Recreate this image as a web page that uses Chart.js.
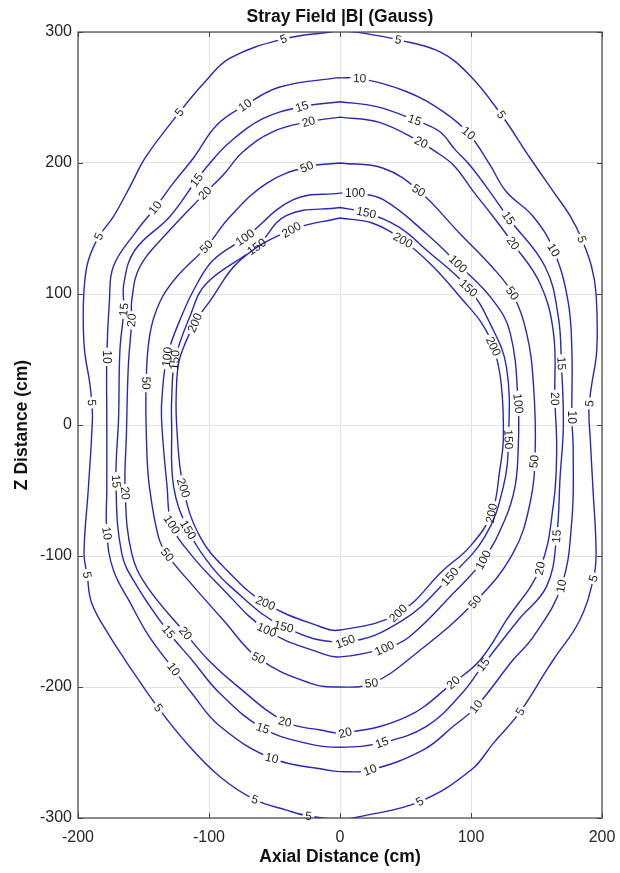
<!DOCTYPE html>
<html><head><meta charset="utf-8">
<script src="https://cdn.jsdelivr.net/npm/chart.js@4.4.1/dist/chart.umd.min.js"></script>
<style>html,body{margin:0;padding:0;background:#fff}canvas{display:block}</style>
</head><body>
<canvas id="c" width="620" height="873"></canvas>
<script>
// ---- data (Axial distance x, Z distance z in cm) ----
const xTicks = [-200, -100, 0, 100, 200];
const zTicks = [-300, -200, -100, 0, 100, 200, 300];
const levels = [5, 10, 15, 20, 50, 100, 150, 200];

const c5 = [[0,301],[15,299.5],[44.5,294],[76,285],[99,267],[123,237],[145,204],[163,178],[176,159],[184.5,142],[192,121],[195.5,100],[196,57],[192,30],[190,12],[191,-10],[193,-47],[195.5,-98],[193.5,-117],[183,-149],[163,-179],[157.8,-187],[137.5,-219],[117,-243],[100.5,-263],[61,-287.5],[15,-299],[0,-301],[-24,-298.5],[-40.7,-294],[-65,-286],[-91.6,-268.5],[-117,-243],[-138.7,-216],[-159,-187],[-164,-179.4],[-175.6,-161.6],[-189.5,-136],[-193,-114.5],[-195.4,-98],[-192,-47],[-189,4],[-189.5,17],[-191,32],[-195,57],[-196,83],[-195,108],[-192,126],[-184,144],[-173,159],[-159,184.5],[-149,203.6],[-122.6,238.7],[-103,262],[-84,280],[-43,294.7],[-7.6,300],[0,301]];
const c10 = [[0,265],[15,264.6],[51,254.4],[79,239],[98,222.7],[114.5,198.5],[127,178],[147.6,159],[163,133.6],[174,95],[177,57],[177,6],[178,-19],[177,-72.5],[169,-123],[147.6,-161.6],[132,-179.4],[104,-215],[86.5,-230],[63.6,-248],[23,-263.4],[0,-264.6],[-10,-263.4],[-52,-254.4],[-91.6,-230],[-113,-205],[-127,-186.5],[-146,-161],[-160,-136],[-173,-110.7],[-178,-82.7],[-178,-47],[-178,0],[-178,52],[-176,95],[-173,121],[-156.5,146.5],[-141,166],[-127,185],[-112,203.6],[-94,229],[-72.5,244],[-46,258],[-2.5,265],[0,265]];
const c15 = [[0,246.8],[28,243],[57,232.8],[76,224],[88,210],[99,198.5],[114.5,178],[128.5,158],[156.5,121],[166.6,83],[169,47],[170.5,0],[168,-40],[165.4,-85],[157.8,-123],[136,-149],[109.4,-183],[93,-205],[66,-230],[32,-242.5],[0,-246],[-25.4,-243],[-59,-231.5],[-91.6,-205],[-113,-179.4],[-131,-158],[-155,-123],[-166.6,-98],[-171,-43],[-169,6],[-168,57],[-165,88],[-165,108],[-156.5,133.6],[-130,159],[-109.5,187],[-100.5,198.5],[-84,216],[-58.5,234],[-29,243],[0,246.8]];
const c20 = [[0,235],[30,231],[62,215.8],[71,210],[86.5,198.5],[102,178],[117,159],[132,138.7],[152.7,108],[163,70],[164,20],[165.4,-19],[163,-60],[152.7,-109.4],[127,-149],[107,-179.4],[86.5,-196.7],[51,-222.7],[4,-235],[-15,-232.8],[-42,-226.5],[-80,-198],[-100.5,-179.4],[-118,-159],[-147.5,-123],[-159,-98],[-164,-52],[-163,-6],[-161.6,44.5],[-159,80],[-159,95],[-152.7,121],[-132,146.5],[-103,177],[-89,191],[-74,208.6],[-51,224],[-24,231.5],[0,235]];
const c50 = [[0,200],[33,196],[60,179],[91.6,146],[115.8,121],[131.5,100.5],[142.5,70],[147.6,32],[149,-20],[145,-60],[132,-98],[103,-135],[58.5,-174],[25,-197],[0,-200],[-23,-197],[-62.3,-178],[-89,-149],[-112,-123],[-132,-99],[-138.7,-85],[-145.5,-47],[-147.5,-19],[-148,32],[-145,70],[-137,95],[-124.7,113],[-102,136],[-84,159],[-56,184.5],[-25.4,197],[0,200]];
const c100 = [[0,177],[12,177],[33,172],[66,146],[90,123],[117,95],[130,70],[136,16.5],[136,-19],[133.6,-47],[126,-72],[109.4,-103],[86.5,-128.5],[53,-161.6],[34,-170.5],[0,-177],[-15,-174],[-56,-156.5],[-91.6,-123],[-114.5,-98],[-128.5,-76],[-132,-47],[-136,0],[-136,19],[-132,52],[-121,83],[-109,108],[-96.7,126],[-72.5,143],[-35.6,172],[0,177]];
const c150 = [[0,166],[20,162],[45,151],[66,133.6],[98,104.5],[114.5,77.6],[127,44.5],[128.6,-11],[124.7,-47],[110.7,-85],[84,-115.8],[48,-149],[4,-165.4],[-43,-154],[-84,-123],[-102,-103],[-116,-80],[-127,-47],[-128.5,0],[-128.5,19],[-126,49.6],[-114.5,83],[-102,108],[-63.6,136],[-40.7,160],[0,166]];
const c200 = [[0,158],[25,154],[48,141],[71,121],[94,95],[108,78],[117,60],[123,32],[124.7,-10],[122,-34],[115.8,-67.4],[99,-93],[79,-110.7],[44.5,-143.8],[0,-156.5],[-15,-154],[-57,-136],[-86.5,-110.7],[-107,-85],[-119.6,-48],[-124.7,0],[-124.7,32],[-122,52],[-110.7,78],[-99,95],[-76,126],[-37,149],[0,158]];

// contour label anchor positions (x, z)
const lab5 = [[-43,294.7],[44.5,294],[-122.6,238.7],[123.4,237],[-184,144],[184.5,141.7],[-189.5,17],[189.6,16.5],[-193,-114.5],[193.4,-117],[-138.7,-216],[137.4,-218.8],[-65,-286],[61,-287.5],[-24,-298.5]];
const lab10 = [[15,264.6],[-72.5,244],[98,222.7],[-141,166],[163,133.6],[-178,52],[177,6],[-178,-82.7],[169,-123],[-127,-186.5],[104,-215],[-52,-254.4],[23,-263.4]];
const lab15 = [[-29,243],[57,232.8],[-109.5,187],[128.5,158],[-165,88],[169,47],[-171,-43],[165.4,-85],[-131,-158],[109.4,-183],[-59,-231.5],[32,-242.5]];
const lab20 = [[-24,231.5],[62,215.8],[-103,177],[132,138.7],[-159,80],[164,20],[-164,-52],[152.7,-109.4],[-118,-159],[86.5,-196.7],[-42,-226.5],[4,-235]];
const lab50 = [[-25.4,197],[60,179],[-102,136],[131.5,100.5],[-148,32],[149,-28],[-132,-99],[103,-135],[-62.3,-178],[24,-196.7]];
const lab100 = [[11.5,177],[-72.5,143],[90,123],[-132,52],[136,16.5],[-128.5,-76],[109.4,-103],[-56,-156.5],[34,-170.5]];
const lab150 = [[20,162],[-63.6,136],[98,104.5],[-126,49.6],[128.6,-11],[-116,-80],[84,-115.8],[-43,-154],[4,-165.4]];
const lab200 = [[-37,149],[48,141],[-110.7,78],[117,60],[-119.6,-48],[115.8,-67.4],[-57,-136],[44.5,-143.8]];

const contourPts = [c5, c10, c15, c20, c50, c100, c150, c200];
const contourLabels = [lab5, lab10, lab15, lab20, lab50, lab100, lab150, lab200];

// ---- styling ----
const FONT = "'Liberation Sans', Arial, Helvetica, sans-serif";
const LINE = 'rgb(40,40,182)';
const LABEL_FONT = "12px " + FONT;

function computeLabels(chart) {
  const xs = chart.scales.x, ys = chart.scales.y;
  const out = [];
  chart.data.datasets.forEach((ds, i) => {
    const meta = chart.getDatasetMeta(i);
    const pts = meta.data.map(p => ({x: p.x, y: p.y}));
    const list = [];
    ds.labelPts.forEach(([lx, lz]) => {
      const px = xs.getPixelForValue(lx), py = ys.getPixelForValue(lz);
      let best = null;
      for (let k = 0; k < pts.length - 1; k++) {
        const a = pts[k], b = pts[k + 1];
        const dx = b.x - a.x, dy = b.y - a.y, L2 = dx * dx + dy * dy || 1;
        let t = ((px - a.x) * dx + (py - a.y) * dy) / L2;
        t = Math.max(0, Math.min(1, t));
        const qx = a.x + t * dx, qy = a.y + t * dy;
        const d = (qx - px) ** 2 + (qy - py) ** 2;
        if (!best || d < best.d) best = {d, qx, qy, ang: Math.atan2(dy, dx)};
      }
      let ang = best.ang;
      if (ang > Math.PI / 2) ang -= Math.PI;
      if (ang <= -Math.PI / 2) ang += Math.PI;
      list.push({x: best.qx, y: best.qy, ang, text: String(ds.level)});
    });
    out.push(list);
  });
  return out;
}

const labelPlugin = {
  id: 'contourLabels',
  beforeDatasetsDraw(chart) { chart.$labs = computeLabels(chart); },
  beforeDatasetDraw(chart, args) {
    const ctx = chart.ctx, labs = chart.$labs[args.index];
    ctx.save();
    ctx.font = LABEL_FONT;
    ctx.beginPath();
    ctx.rect(0, 0, chart.width, chart.height);
    labs.forEach(l => {
      const w = ctx.measureText(l.text).width + 5, h = 11;
      const c = Math.cos(l.ang), s = Math.sin(l.ang);
      const cs = [[-w/2,-h/2],[w/2,-h/2],[w/2,h/2],[-w/2,h/2]].map(([u,v]) => [l.x + u*c - v*s, l.y + u*s + v*c]);
      ctx.moveTo(cs[0][0], cs[0][1]);
      for (let k = 1; k < 4; k++) ctx.lineTo(cs[k][0], cs[k][1]);
      ctx.closePath();
    });
    ctx.clip('evenodd');
  },
  afterDatasetDraw(chart) { chart.ctx.restore(); },
  afterDatasetsDraw(chart) {
    const ctx = chart.ctx;
    ctx.save();
    ctx.font = LABEL_FONT;
    ctx.fillStyle = '#1e1e1e';
    ctx.textAlign = 'center';
    ctx.textBaseline = 'middle';
    chart.$labs.forEach(list => list.forEach(l => {
      ctx.save(); ctx.translate(l.x, l.y); ctx.rotate(l.ang); ctx.fillText(l.text, 0, 0.5); ctx.restore();
    }));
    ctx.restore();
  }
};

const boxPlugin = {
  id: 'box',
  afterDraw(chart) {
    const {ctx, chartArea: a, scales} = chart;
    ctx.save();
    ctx.strokeStyle = '#444';
    ctx.lineWidth = 1.2;
    ctx.strokeRect(a.left, a.top, a.right - a.left, a.bottom - a.top);
    ctx.lineWidth = 1;
    ctx.beginPath();
    const tl = 5;
    xTicks.forEach(v => { const p = Math.round(scales.x.getPixelForValue(v)) + 0.5;
      ctx.moveTo(p, a.bottom); ctx.lineTo(p, a.bottom - tl); ctx.moveTo(p, a.top); ctx.lineTo(p, a.top + tl); });
    zTicks.forEach(v => { const p = Math.round(scales.y.getPixelForValue(v)) + 0.5;
      ctx.moveTo(a.left, p); ctx.lineTo(a.left + tl, p); ctx.moveTo(a.right, p); ctx.lineTo(a.right - tl, p); });
    ctx.stroke();
    ctx.restore();
  }
};

const datasets = contourPts.map((pts, i) => ({
  level: levels[i],
  labelPts: contourLabels[i],
  data: pts.map(([x, z]) => ({x, y: z})),
  showLine: true,
  pointRadius: 0,
  pointHoverRadius: 0,
  borderColor: LINE,
  borderWidth: 1.4,
  tension: 0.4,
  fill: false
}));

new Chart(document.getElementById('c'), {
  type: 'scatter',
  data: {datasets},
  options: {
    responsive: false,
    animation: false,
    devicePixelRatio: 1,
    events: [],
    layout: {padding: {left: 0, right: 18, top: 0, bottom: 0}},
    plugins: {
      legend: {display: false},
      tooltip: {enabled: false},
      title: {display: true, text: 'Stray Field |B| (Gauss)', fullSize: false, color: '#111',
        font: {family: FONT, size: 17.5, weight: 'bold'}, padding: {top: 6.5, bottom: 4.5}}
    },
    scales: {
      x: {
        type: 'linear', min: -200, max: 200,
        afterBuildTicks: s => { s.ticks = xTicks.map(v => ({value: v})); },
        afterFit: s => { s.height = 55; s.paddingLeft = 0; s.paddingRight = 0; },
        ticks: {color: '#262626', font: {family: FONT, size: 16}, padding: 10, maxRotation: 0, autoSkip: false},
        grid: {color: '#e3e3e3', drawTicks: false, lineWidth: 1},
        border: {display: false},
        title: {display: true, text: 'Axial Distance (cm)', color: '#111',
          font: {family: FONT, size: 17.5, weight: 'bold'}, padding: {top: 0, bottom: 5.5}}
      },
      y: {
        type: 'linear', min: -300, max: 300,
        afterBuildTicks: s => { s.ticks = zTicks.map(v => ({value: v})); },
        afterFit: s => { s.width = 78; s.paddingTop = 0; s.paddingBottom = 0; },
        ticks: {color: '#262626', font: {family: FONT, size: 16}, padding: 6, autoSkip: false},
        grid: {color: '#e3e3e3', drawTicks: false, lineWidth: 1},
        border: {display: false},
        title: {display: true, text: 'Z Distance (cm)', color: '#111',
          font: {family: FONT, size: 17.5, weight: 'bold'}, padding: {top: 11.5, bottom: 0}}
      }
    }
  },
  plugins: [labelPlugin, boxPlugin]
});
</script>
</body></html>
